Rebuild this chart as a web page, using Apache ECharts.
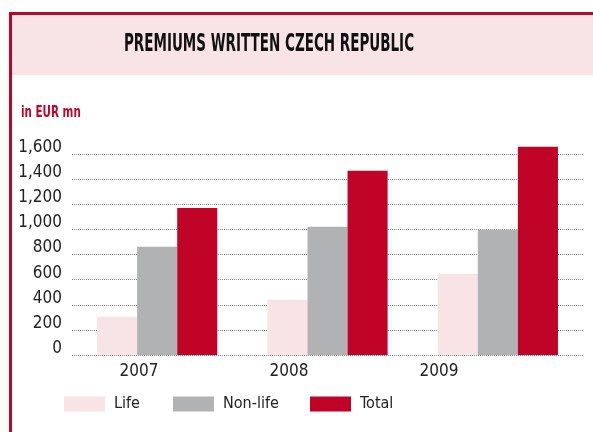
<!DOCTYPE html>
<html>
<head>
<meta charset="UTF-8">
<title>Premiums written Czech Republic</title>
<script src="https://cdn.jsdelivr.net/npm/echarts@6/dist/echarts.min.js"></script>
<style>
  html, body { margin: 0; padding: 0; background: #fff; }
  #chart { width: 593px; height: 432px; }
</style>
</head>
<body>
<div id="chart"></div>
<script>
// data
var years = ['2007', '2008', '2009'];
var life = [305, 440, 647];
var nonLife = [861, 1020, 997];
var total = [1171, 1466, 1657];
var seriesNames = ['Life', 'Non-life', 'Total'];
var colors = ['#F8E4E6', '#B1B2B4', '#C00428'];

var font = '"DejaVu Sans Condensed", "Liberation Sans Narrow", sans-serif';
var red = '#C00428';

var chart = echarts.init(document.getElementById('chart'));

function legendFor(name, left) {
    return {
        data: [name], left: left, top: 391,
        itemWidth: 41, itemHeight: 15, icon: 'rect',
        textStyle: { fontFamily: font, fontSize: 16, color: '#222', padding: [0, 0, 0, 4] }
    };
}

var option = {
    backgroundColor: '#fff',
    color: colors,
    // frame, header band, unit label
    graphic: [
        { type: 'rect', shape: { x: 11, y: 13, width: 600, height: 62 }, style: { fill: '#F8E4E6' }, z: -10 },
        { type: 'rect', shape: { x: 9, y: 12, width: 600, height: 3 }, style: { fill: red } },
        { type: 'rect', shape: { x: 9, y: 12, width: 3, height: 430 }, style: { fill: red } },
        {
            type: 'text', x: 269, y: 45, scaleX: 0.625,
            style: { text: 'PREMIUMS WRITTEN CZECH REPUBLIC', fill: '#111', font: 'bold 24px ' + font, align: 'center', verticalAlign: 'middle' }
        },
        {
            type: 'text', x: 21, y: 113, scaleX: 0.72,
            style: { text: 'in EUR mn', fill: red, font: 'bold 16px ' + font, verticalAlign: 'middle' }
        }
    ],
    legend: [legendFor('Life', 59), legendFor('Non-life', 168), legendFor('Total', 305)],
    grid: [
        { left: 72, right: 10, top: 154, bottom: 77 },
        { left: 64, right: 79, top: 154, bottom: 77 }   // year labels sit left of the bar groups
    ],
    xAxis: [{
        type: 'category',
        data: years,
        axisLine: { show: false },
        axisTick: { show: false },
        axisLabel: { show: false }
    }, {
        type: 'category',
        gridIndex: 1,
        data: years,
        axisLine: { show: false },
        axisTick: { show: false },
        axisLabel: { fontFamily: font, fontSize: 17, color: '#222', margin: 8 }
    }],
    yAxis: [{
        type: 'value',
        min: 0,
        max: 1600,
        interval: 200,
        axisLine: { show: false },
        axisTick: { show: false },
        axisLabel: {
            fontFamily: font, fontSize: 17, color: '#222', margin: 10, verticalAlign: 'bottom',
            padding: [0, 0, -2, 0],
            formatter: function (v) { return v.toLocaleString('en-US'); }
        },
        splitLine: { lineStyle: { type: [1, 1], color: '#8a8a8a', width: 1 } }
    }, {
        type: 'value', gridIndex: 1, min: 0, max: 1600, show: false
    }],
    series: [
        { name: 'Life', type: 'bar', data: life, barGap: '0%', barCategoryGap: '29.4%', clip: false },
        { name: 'Non-life', type: 'bar', data: nonLife, clip: false },
        { name: 'Total', type: 'bar', data: total, clip: false }
    ]
};

chart.setOption(option);
</script>
</body>
</html>
